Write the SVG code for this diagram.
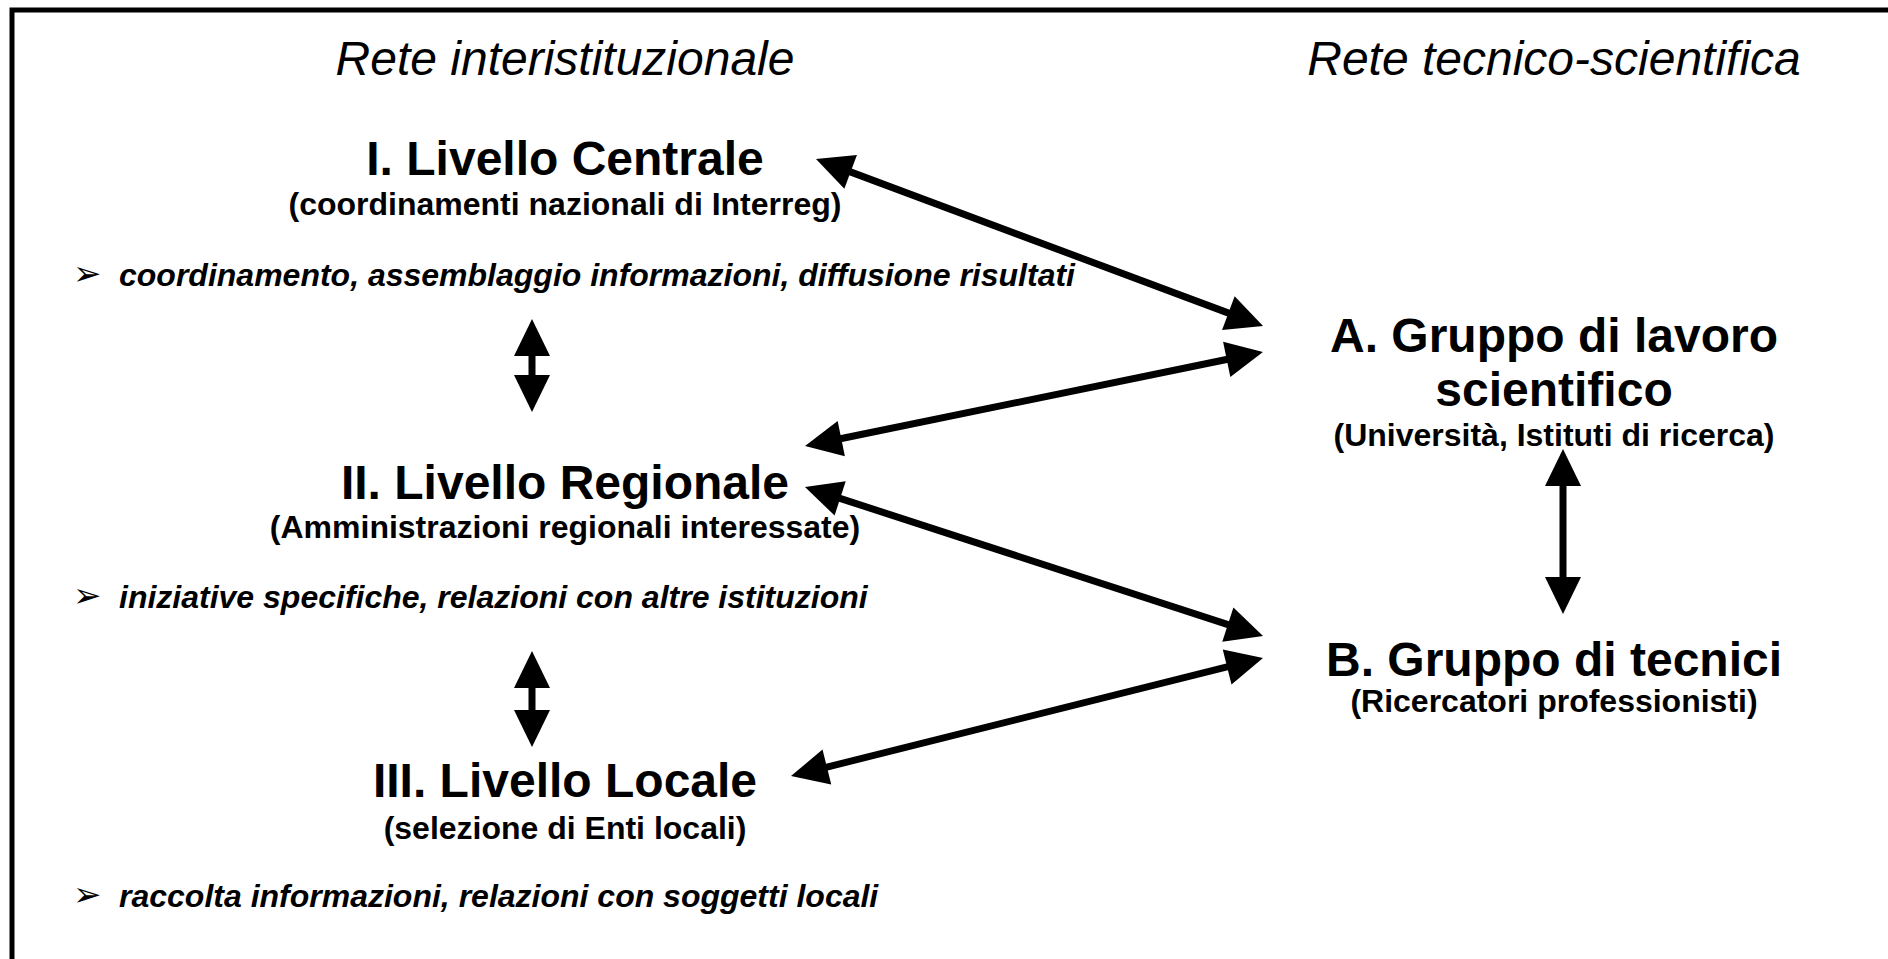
<svg xmlns="http://www.w3.org/2000/svg" width="1888" height="959" viewBox="0 0 1888 959">
<style>
.title{font-family:"Liberation Sans",Arial,sans-serif;font-size:48px;font-style:italic;fill:#000;text-anchor:middle}
.head{font-family:"Liberation Sans",Arial,sans-serif;font-size:48px;font-weight:bold;fill:#000;text-anchor:middle}
.sub{font-family:"Liberation Sans",Arial,sans-serif;font-size:32px;font-weight:bold;fill:#000;text-anchor:middle}
.bul{font-family:"Liberation Sans",Arial,sans-serif;font-size:32px;font-weight:bold;font-style:italic;fill:#000}
.mark{font-family:"DejaVu Sans",sans-serif;font-size:34px;fill:#000}
.conn line{stroke:#000;stroke-width:7;marker-start:url(#ah);marker-end:url(#ah)}
</style>
<defs>
<marker id="ah" markerUnits="userSpaceOnUse" markerWidth="40" markerHeight="40" viewBox="-2 -19 40 38" refX="1" refY="0" orient="auto-start-reverse">
<path d="M0,-18 L37,0 L0,18 Z" fill="#000"/>
</marker>
</defs>
<rect width="1888" height="959" fill="#fff"/>
<path d="M12,959 V10 H1888" fill="none" stroke="#000" stroke-width="5"/>
<text class="title" x="565" y="75">Rete interistituzionale</text>
<text class="title" x="1554" y="75">Rete tecnico-scientifica</text>
<g id="livello-centrale">
<text class="head" x="565" y="175">I. Livello Centrale</text>
<text class="sub" x="565" y="215">(coordinamenti nazionali di Interreg)</text>
<text class="mark" x="73" y="285">➢</text>
<text class="bul" x="119" y="286">coordinamento, assemblaggio informazioni, diffusione risultati</text>
</g>
<g id="livello-regionale">
<text class="head" x="565" y="499">II. Livello Regionale</text>
<text class="sub" x="565" y="538">(Amministrazioni regionali interessate)</text>
<text class="mark" x="73" y="607">➢</text>
<text class="bul" x="119" y="608">iniziative specifiche, relazioni con altre istituzioni</text>
</g>
<g id="livello-locale">
<text class="head" x="565" y="797">III. Livello Locale</text>
<text class="sub" x="565" y="839">(selezione di Enti locali)</text>
<text class="mark" x="73" y="906">➢</text>
<text class="bul" x="119" y="907">raccolta informazioni, relazioni con soggetti locali</text>
</g>
<g id="gruppo-scientifico">
<text class="head" x="1554" y="352">A. Gruppo di lavoro</text>
<text class="head" x="1554" y="406">scientifico</text>
<text class="sub" x="1554" y="446">(Università, Istituti di ricerca)</text>
</g>
<g id="gruppo-tecnici">
<text class="head" x="1554" y="676">B. Gruppo di tecnici</text>
<text class="sub" x="1554" y="712">(Ricercatori professionisti)</text>
</g>
<g id="connectors" class="conn">
<line x1="532" y1="355" x2="532" y2="376"/>
<line x1="532" y1="687" x2="532" y2="711"/>
<line x1="1563" y1="485" x2="1563" y2="578"/>
<line x1="849.7" y1="171.6" x2="1229.3" y2="313.4"/>
<line x1="840.3" y1="438.8" x2="1227.7" y2="359.2"/>
<line x1="839.2" y1="498.1" x2="1228.8" y2="624.9"/>
<line x1="825.9" y1="767.3" x2="1228.1" y2="666.7"/>
</g>
</svg>
